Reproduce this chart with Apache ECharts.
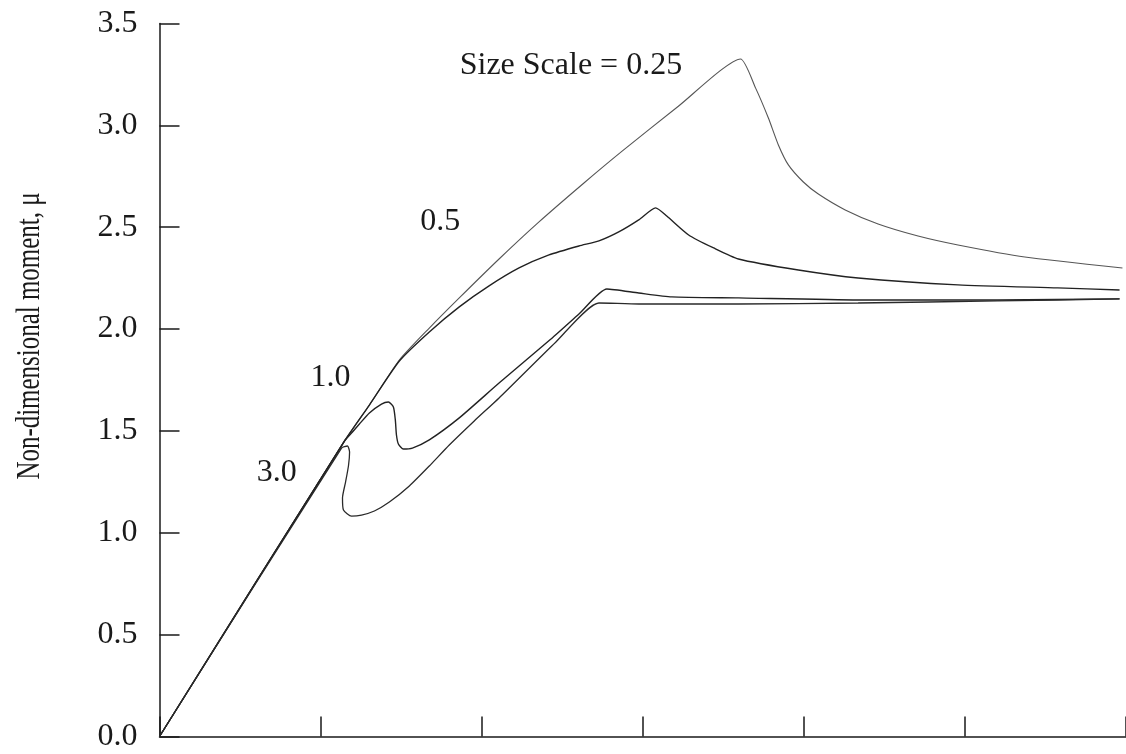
<!DOCTYPE html>
<html>
<head>
<meta charset="utf-8">
<script src="https://cdn.jsdelivr.net/npm/echarts@6/dist/echarts.min.js"></script>
<style>
  html, body { margin: 0; padding: 0; background: #ffffff; }
  #chart { width: 1126px; height: 754px; }
</style>
</head>
<body>
<div id="chart"></div>
<script>
// Moment vs. rotation response for four size scales (x axis carries ticks only)
const yTicks = [0, 0.5, 1.0, 1.5, 2.0, 2.5, 3.0, 3.5];
const yTitle = 'Non-dimensional moment, \u03bc';

// Size scale 0.25
const curve025 = [
  [0, 0], [1.149, 1.451], [1.303, 1.627], [1.489, 1.848], [1.675, 2.005],
  [1.861, 2.153], [2.108, 2.344], [2.356, 2.526], [2.635, 2.717], [2.870, 2.872],
  [3.223, 3.095], [3.607, 3.326], [3.700, 3.184], [3.780, 3.036], [3.842, 2.904],
  [3.904, 2.806], [3.997, 2.722], [4.090, 2.663], [4.257, 2.585], [4.461, 2.516],
  [4.709, 2.457], [4.957, 2.413], [5.372, 2.354], [5.978, 2.300]
];
// Size scale 0.5
const curve05 = [
  [0, 0], [1.149, 1.451], [1.303, 1.627], [1.489, 1.843], [1.675, 1.986],
  [1.861, 2.109], [2.046, 2.212], [2.232, 2.300], [2.418, 2.364], [2.604, 2.408],
  [2.728, 2.433], [2.851, 2.477], [2.975, 2.536], [3.080, 2.595], [3.149, 2.555],
  [3.285, 2.462], [3.440, 2.398], [3.594, 2.344], [3.966, 2.290], [4.337, 2.251],
  [4.957, 2.217], [5.576, 2.202], [5.960, 2.192]
];
// Size scale 1.0
const curve10 = [
  [0, 0], [1.149, 1.451], [1.198, 1.495], [1.241, 1.534], [1.303, 1.588],
  [1.378, 1.632], [1.421, 1.642], [1.452, 1.618], [1.464, 1.554], [1.471, 1.480],
  [1.483, 1.436], [1.514, 1.411], [1.570, 1.416], [1.675, 1.456], [1.861, 1.564],
  [2.108, 1.735], [2.430, 1.951], [2.604, 2.074], [2.777, 2.197], [2.975, 2.177],
  [3.180, 2.158], [3.594, 2.153], [4.337, 2.143], [5.204, 2.143], [5.960, 2.148]
];
// Size scale 3.0
const curve30 = [
  [0, 0], [1.130, 1.416], [1.167, 1.426], [1.180, 1.397], [1.173, 1.328],
  [1.155, 1.249], [1.136, 1.171], [1.142, 1.112], [1.192, 1.082], [1.254, 1.087],
  [1.334, 1.107], [1.427, 1.151], [1.551, 1.230], [1.675, 1.328], [1.799, 1.431],
  [1.954, 1.549], [2.108, 1.662], [2.461, 1.937], [2.728, 2.128], [2.975, 2.123],
  [3.594, 2.123], [4.337, 2.128], [5.204, 2.138], [5.960, 2.148]
];

// Curve annotations: [text, x, y] in data units (text centre)
const notes = [
  ['Size Scale = 0.25', 2.554, 3.292],
  ['0.5', 1.743, 2.526],
  ['1.0', 1.062, 1.760],
  ['3.0', 0.728, 1.294]
];

const FONT = '"Liberation Serif", "Times New Roman", serif';
const ink = '#1a1a1a';

const chart = echarts.init(document.getElementById('chart'), null, { renderer: 'canvas' });

function lineSeries(name, data, color, width) {
  return {
    name: name,
    type: 'line',
    data: data,
    showSymbol: false,
    smooth: 0.2,
    animation: false,
    lineStyle: { color: color, width: width },
    z: 3
  };
}

chart.setOption({
  backgroundColor: '#ffffff',
  animation: false,
  grid: { left: 159.5, top: 23.5, right: -2.5, bottom: 17.5, containLabel: false },
  xAxis: {
    type: 'value',
    min: 0, max: 6, interval: 1,
    axisLine: { show: true, onZero: false, lineStyle: { color: ink, width: 1.5 } },
    axisTick: { show: true, inside: true, length: 20, lineStyle: { color: ink, width: 1.5 } },
    axisLabel: { show: false },
    splitLine: { show: false }
  },
  yAxis: {
    type: 'value',
    min: yTicks[0], max: yTicks[yTicks.length - 1], interval: 0.5,
    axisLine: { show: true, onZero: false, lineStyle: { color: ink, width: 1.5 } },
    axisTick: { show: true, inside: true, length: 20, lineStyle: { color: ink, width: 1.5 } },
    axisLabel: {
      margin: 22,
      color: ink,
      fontFamily: FONT,
      fontSize: 32,
      formatter: v => Number(v).toFixed(1)
    },
    splitLine: { show: false }
  },
  series: [
    lineSeries('0.25', curve025, '#555555', 1.1),
    lineSeries('0.5', curve05, '#222222', 1.4),
    lineSeries('1.0', curve10, '#222222', 1.4),
    lineSeries('3.0', curve30, '#2a2a2a', 1.3)
  ]
});

// Text annotations and the rotated axis title
const graphics = notes.map(n => {
  const p = chart.convertToPixel({ gridIndex: 0 }, [n[1], n[2]]);
  return {
    type: 'text',
    x: p[0], y: p[1],
    style: {
      text: n[0], fill: ink, font: '32px ' + FONT,
      align: 'center', verticalAlign: 'middle'
    },
    z: 10
  };
});
graphics.push({
  type: 'text',
  x: 30, y: 336,
  rotation: Math.PI / 2,
  scaleX: 0.78,
  scaleY: 1.05,
  style: {
    text: yTitle, fill: ink, font: '32px ' + FONT,
    align: 'center', verticalAlign: 'middle'
  },
  z: 10
});
chart.setOption({ graphic: graphics });
</script>
</body>
</html>
